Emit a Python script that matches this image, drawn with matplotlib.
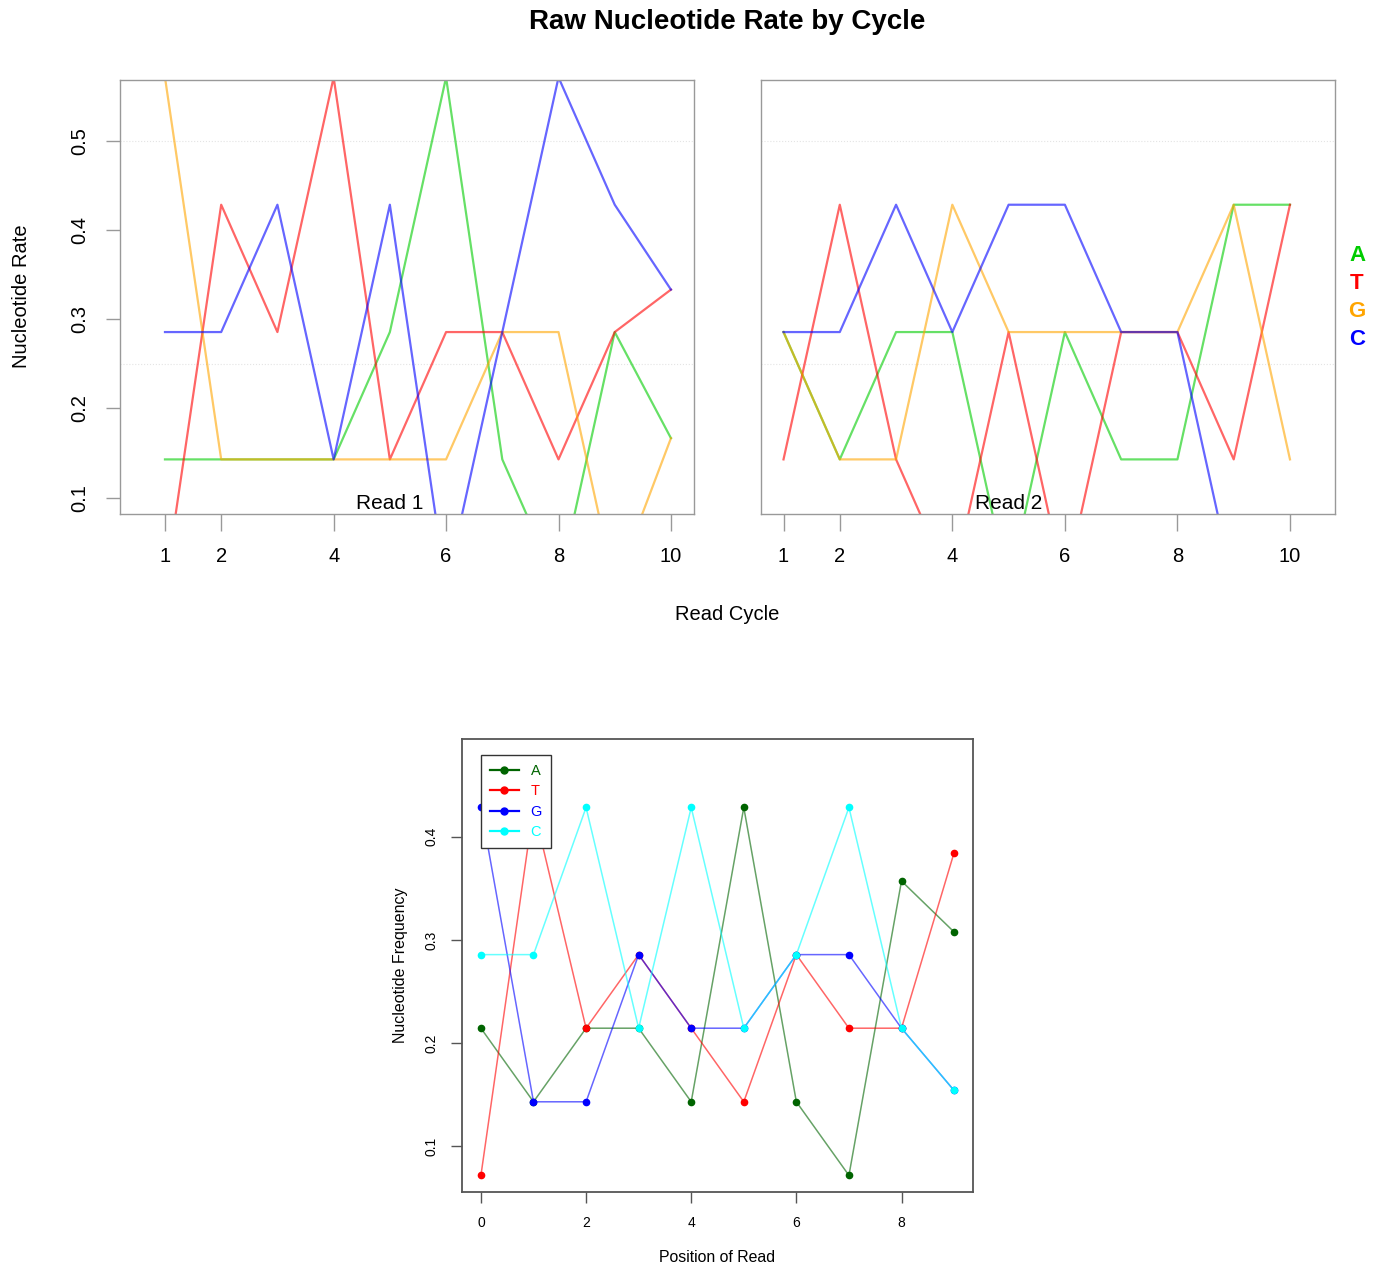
import numpy as np
import matplotlib
matplotlib.use("Agg")
import matplotlib.pyplot as plt
import matplotlib.transforms as mtransforms

plt.rcParams["font.family"] = ["Liberation Sans", "DejaVu Sans"]

# Data

bases = ["A", "T", "G", "C"]
cycles = np.arange(1, 11)

# read 1 rates (fractions of reads per cycle)
read1_A = [1/7, 1/7, 1/7, 1/7, 2/7, 4/7, 1/7, 0, 2/7, 1/6]
read1_T = [0, 3/7, 2/7, 4/7, 1/7, 2/7, 2/7, 1/7, 2/7, 1/3]
read1_G = [4/7, 1/7, 1/7, 1/7, 1/7, 1/7, 2/7, 2/7, 0, 1/6]
read1_C = [2/7, 2/7, 3/7, 1/7, 3/7, 0, 2/7, 4/7, 3/7, 1/3]

# read 2 rates
read2_A = [2/7, 1/7, 2/7, 2/7, 0, 2/7, 1/7, 1/7, 3/7, 3/7]
read2_T = [1/7, 3/7, 1/7, 0, 2/7, 0, 2/7, 2/7, 1/7, 3/7]
read2_G = [2/7, 1/7, 1/7, 3/7, 2/7, 2/7, 2/7, 2/7, 3/7, 1/7]
read2_C = [2/7, 2/7, 3/7, 2/7, 3/7, 3/7, 2/7, 2/7, 0, 0]

# bottom plot: frequency by position
positions = np.arange(0, 10)
freq_A = [3/14, 2/14, 3/14, 3/14, 2/14, 6/14, 2/14, 1/14, 5/14, 4/13]
freq_T = [1/14, 6/14, 3/14, 4/14, 3/14, 2/14, 4/14, 3/14, 3/14, 5/13]
freq_G = [6/14, 2/14, 2/14, 4/14, 3/14, 3/14, 4/14, 4/14, 3/14, 2/13]
freq_C = [4/14, 4/14, 6/14, 3/14, 6/14, 3/14, 4/14, 6/14, 3/14, 2/13]

# Styles

top_colors = {"A": "#00CC00", "T": "#FF0000", "G": "#FFA500", "C": "#0000FF"}
bottom_colors = {"A": "darkgreen", "T": "red", "G": "blue", "C": "cyan"}
box_color = "#999999"

W, H = 1388, 1271
fig = plt.figure(figsize=(W / 100, H / 100), dpi=100)

def px_axes(x0, y0, x1, y1):
    return fig.add_axes([x0 / W, 1 - y1 / H, (x1 - x0) / W, (y1 - y0) / H])

ax1 = px_axes(120, 80, 694, 514)
ax2 = px_axes(761, 80, 1335, 514)

read_data = [
    (ax1, "Read 1", [read1_A, read1_T, read1_G, read1_C], (0.2, 10.41)),
    (ax2, "Read 2", [read2_A, read2_T, read2_G, read2_C], (0.6, 10.8)),
]

for ax, name, series, xlim in read_data:
    for b, vals in zip(bases, series):
        ax.plot(cycles, vals, color=top_colors[b], alpha=0.6, lw=1.6)
    for g in [0.25, 0.5]:
        ax.axhline(g, color="#e4e4e4", lw=0.8, ls=":", zorder=0)
    ax.set_xlim(*xlim)
    ax.set_ylim(0.0816, 0.5685)
    ax.set_xticks([1, 2, 4, 6, 8, 10])
    ax.tick_params(axis="x", length=12, width=1, color=box_color, pad=12,
                   labelsize=14.5)
    for sp in ax.spines.values():
        sp.set_color(box_color)
        sp.set_linewidth(1)
    trans = mtransforms.blended_transform_factory(ax.transData, ax.transAxes)
    ax.text(5, 0.003, name, transform=trans, ha="center", va="bottom",
            fontsize=15)

ax1.set_yticks([0.1, 0.2, 0.3, 0.4, 0.5])
ax1.set_yticklabels(["0.1", "0.2", "0.3", "0.4", "0.5"], rotation=90,
                    va="center")
ax1.tick_params(axis="y", length=10, width=1, color=box_color, pad=12,
                labelsize=14.5)
ax2.set_yticks([])

fig.text(727 / W, 1 - 22 / H, "Raw Nucleotide Rate by Cycle", ha="center",
         va="center", fontsize=20, fontweight="bold")
fig.text(727 / W, 1 - 614 / H, "Read Cycle", ha="center", va="center",
         fontsize=14.5)
fig.text(22 / W, 1 - 296 / H, "Nucleotide Rate", ha="center", va="center",
         rotation=90, fontsize=14.5)

for i, b in enumerate(bases):
    fig.text(1357 / W, 1 - (255 + i * 28.3) / H, b, ha="center", va="center",
             fontsize=16, fontweight="bold", color=top_colors[b])

# Bottom plot

ax3 = px_axes(462, 739, 973, 1192)
freqs = [freq_A, freq_T, freq_G, freq_C]
for b, vals in zip(bases, freqs):
    ax3.plot(positions, vals, color=bottom_colors[b], alpha=0.6, lw=1.1)
    ax3.plot(positions, vals, ls="none", marker="o", ms=4.5,
             color=bottom_colors[b])

ax3.set_xlim(-0.36, 9.36)
ax3.set_ylim(0.0553, 0.495)
ax3.set_xticks([0, 2, 4, 6, 8])
ax3.set_yticks([0.1, 0.2, 0.3, 0.4])
ax3.set_yticklabels(["0.1", "0.2", "0.3", "0.4"], rotation=90, va="center")
ax3.tick_params(length=8, width=1, color="#555555", labelsize=10, pad=9)
for sp in ax3.spines.values():
    sp.set_color("#555555")
    sp.set_linewidth(1.3)
ax3.set_xlabel("Position of Read", fontsize=11.4, labelpad=15)
ax3.set_ylabel("Nucleotide Frequency", fontsize=11.5, labelpad=12)

handles = [plt.Line2D([], [], color=bottom_colors[b], marker="o", ms=5, lw=1.6)
           for b in bases]
leg = ax3.legend(handles, bases, loc="upper left", fontsize=10.5,
                 handlelength=2.0, handletextpad=0.8, borderpad=0.6,
                 borderaxespad=0, labelspacing=0.45, fancybox=False,
                 framealpha=1, edgecolor="#333333",
                 bbox_to_anchor=(19 / 511, 1 - 16 / 453))
for txt, b in zip(leg.get_texts(), bases):
    txt.set_color(bottom_colors[b])

fig.savefig("out.png", dpi=100)
